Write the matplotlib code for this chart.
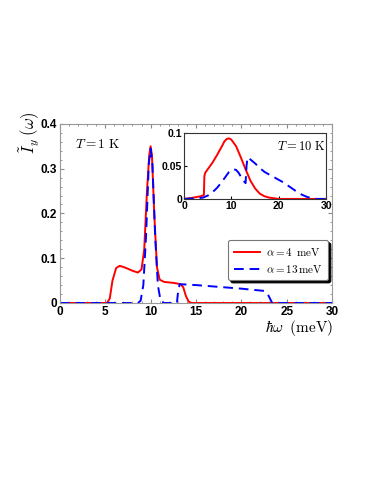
import matplotlib
matplotlib.use("Agg")
import matplotlib.pyplot as plt
from matplotlib.ticker import AutoMinorLocator

plt.rcParams['mathtext.fontset'] = 'cm'
plt.rcParams['font.family'] = ['Liberation Sans', 'DejaVu Sans']

# Main panel, T = 1 K
red_x = [0, 5.2, 5.5, 5.8, 6.2, 6.6, 7.2, 8.0, 8.6, 9.0, 9.3, 9.6, 9.85, 10.0, 10.15,
         10.4, 10.7, 11.0, 11.5, 12.5, 13.3, 13.6, 13.9, 14.2, 14.5, 30]
red_y = [0, 0, 0.01, 0.05, 0.078, 0.083, 0.079, 0.072, 0.068, 0.075, 0.12, 0.25, 0.33,
         0.35, 0.33, 0.2, 0.08, 0.052, 0.047, 0.045, 0.042, 0.035, 0.015, 0.003, 0, 0]
blue_x = [0, 8.6, 8.9, 9.2, 9.5, 9.8, 10.0, 10.2, 10.5, 10.8, 11.1, 11.5, 12.9, 13.0,
          13.2, 15, 20, 22.5, 22.9, 23.2, 23.4, 30]
blue_y = [0, 0, 0.005, 0.04, 0.15, 0.31, 0.345, 0.31, 0.15, 0.04, 0.005, 0, 0, 0.02,
          0.042, 0.04, 0.032, 0.027, 0.02, 0.008, 0, 0]

# Inset, T = 10 K
ired_x = [0, 2, 3.5, 4.2, 4.3, 4.5, 5, 6, 7, 8, 8.5, 9, 9.5, 10, 11, 12, 13, 14, 15,
          16, 17, 18, 20, 30]
ired_y = [0, 0.002, 0.004, 0.006, 0.035, 0.04, 0.045, 0.055, 0.067, 0.08, 0.087, 0.091,
          0.092, 0.09, 0.08, 0.063, 0.045, 0.028, 0.016, 0.008, 0.004, 0.002, 0, 0]
iblue_x = [0, 3, 4, 5, 6, 7, 8, 9, 9.5, 10, 10.5, 11, 11.5, 12, 12.5, 13.0, 13.2, 13.4,
           14, 15, 16, 17, 18, 19, 20, 21, 22, 23, 24, 25, 26, 27, 28, 30]
iblue_y = [0, 0.001, 0.002, 0.005, 0.01, 0.017, 0.026, 0.036, 0.041, 0.044, 0.045,
           0.044, 0.04, 0.034, 0.028, 0.024, 0.05, 0.063, 0.06, 0.054, 0.047, 0.041,
           0.037, 0.033, 0.029, 0.025, 0.02, 0.015, 0.01, 0.006, 0.003, 0.001, 0, 0]

fig = plt.figure(figsize=(3.74, 4.84), dpi=100)
ax = fig.add_axes([0.160, 0.374, 0.728, 0.370])
ax.plot(red_x, red_y, color='red', lw=1.4, label=r'$\alpha = 4\;\;\mathrm{meV}$')
ax.plot(blue_x, blue_y, color='blue', lw=1.4, ls=(0, (5, 3)),
        label=r'$\alpha = 13\,\mathrm{meV}$')
ax.set_xlim(0, 30)
ax.set_ylim(0, 0.4)
ax.set_xticks([0, 5, 10, 15, 20, 25, 30])
ax.set_yticks([0, 0.1, 0.2, 0.3, 0.4])
ax.set_yticklabels(['0', '0.1', '0.2', '0.3', '0.4'])
ax.xaxis.set_minor_locator(AutoMinorLocator(5))
ax.yaxis.set_minor_locator(AutoMinorLocator(5))
ax.tick_params(which='both', direction='in', top=True, right=True, colors='#888888',
               labelcolor='black', labelsize=8.5, pad=2)
ax.tick_params(which='major', length=3)
ax.tick_params(which='minor', length=1.5)
for lab in ax.get_xticklabels() + ax.get_yticklabels():
    lab.set_fontweight('bold')
for s in ax.spines.values():
    s.set_color('#999999')
    s.set_linewidth(0.8)
ax.text(1.7, 0.353, r'$T = 1\ \mathrm{K}$', fontsize=9.5, va='center')
fig.text(0.08, 0.725, r'$\tilde{I}_y\;(\omega)$', rotation=90, fontsize=12,
         ha='center', va='center')
fig.text(0.80, 0.343, r'$\hbar\omega\;\;(\mathrm{meV})$', fontsize=11, ha='center',
         va='top')
leg = ax.legend(loc='lower right', bbox_to_anchor=(0.985, 0.128), fontsize=8,
                frameon=True, fancybox=True, shadow={'color': 'black', 'alpha': 1},
                handlelength=2.4, borderpad=0.5, labelspacing=0.45, borderaxespad=0,
                handletextpad=0.5)
leg.get_frame().set_edgecolor('#777777')
leg.get_frame().set_linewidth(0.8)

ins = fig.add_axes([0.492, 0.589, 0.380, 0.136])
ins.plot(ired_x, ired_y, color='red', lw=1.4)
ins.plot(iblue_x, iblue_y, color='blue', lw=1.4, ls=(0, (5, 3)))
ins.set_xlim(0, 30)
ins.set_ylim(0, 0.1)
ins.set_xticks([0, 10, 20, 30])
ins.set_yticks([0, 0.05, 0.1])
ins.set_yticklabels(['0', '0.05', '0.1'])
ins.tick_params(direction='in', labelsize=7.5, pad=1.5, length=2.5)
for lab in ins.get_xticklabels() + ins.get_yticklabels():
    lab.set_fontweight('bold')
for s in ins.spines.values():
    s.set_color('#333333')
    s.set_linewidth(0.8)
ins.text(19.6, 0.08, r'$T = 10\ \mathrm{K}$', fontsize=9, va='center')

fig.savefig('out.png', dpi=100)
